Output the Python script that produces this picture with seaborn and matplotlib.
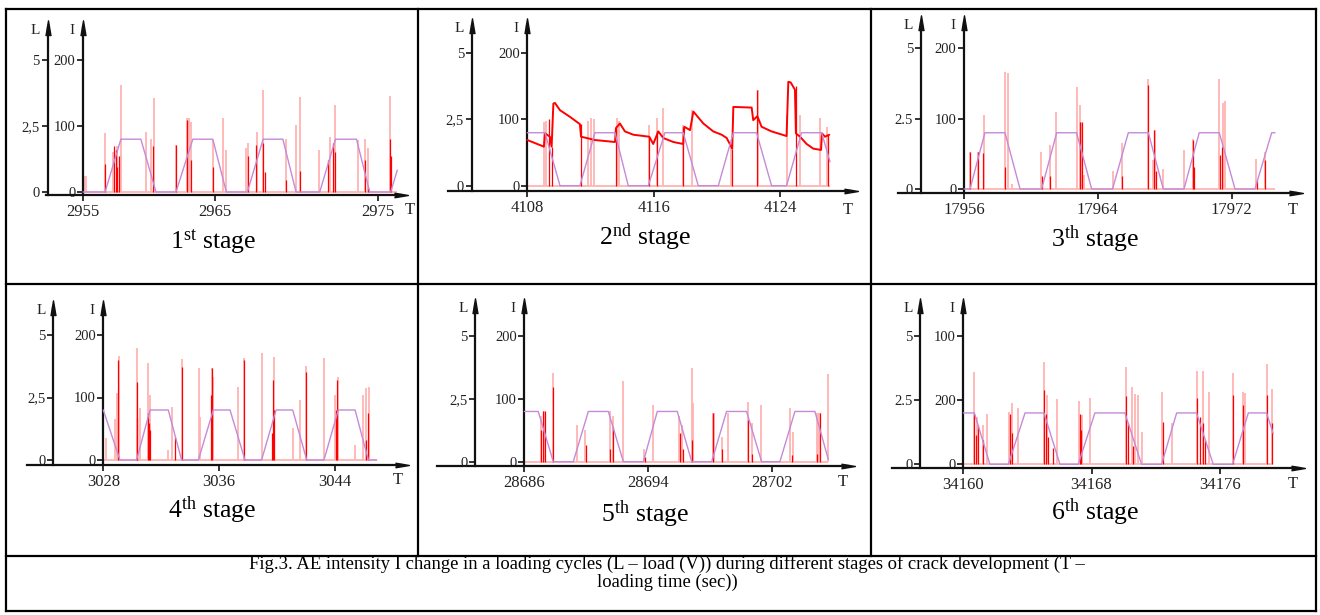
import numpy as np
import matplotlib
matplotlib.use("Agg")
import matplotlib.pyplot as plt
import seaborn as sns

sns.set_theme(style="white")
plt.rcParams['font.family'] = ['Liberation Serif', 'DejaVu Serif']
plt.rcParams['mathtext.fontset'] = 'custom'
plt.rcParams['mathtext.rm'] = 'Liberation Serif'
plt.rcParams['mathtext.it'] = 'Liberation Serif:italic'

W, H = 1320, 615

# ---------------- DATA ----------------
# times are seconds after the first tick value of each panel; I in intensity units, L in load units
# Stage 1
p1_t0 = 2955
p1_xticks = [2955, 2965, 2977.4]
p1_xticklabels = ["2955", "2965", "2975"]
p1_load_dt = [0, 1.68, 2.88, 4.40, 5.55, 7.07, 8.35, 9.87, 10.9, 12.5, 13.7, 15.2, 16.2, 18.0, 19.2, 20.8, 21.8, 23.4, 23.9]
p1_load_L = [0, 0, 2.0, 2.0, 0, 0, 2.0, 2.0, 0, 0, 2.0, 2.0, 0, 0, 2.0, 2.0, 0, 0, 0.83]
p1_light_dt = [0.08, 0.25, 1.68, 2.30, 2.55, 2.88, 4.78, 5.17, 5.42, 7.07, 7.89, 8.04, 8.22, 9.87, 10.64, 10.89,
               12.42, 12.54, 13.26, 13.69, 15.42, 16.23, 16.49, 17.96, 18.78, 19.16, 20.94, 21.45, 21.70, 23.36]
p1_light_I = [24, 24, 89, 60, 70, 162, 91, 81, 142, 71, 112, 112, 106, 79, 112, 64,
              67, 74, 91, 155, 81, 102, 144, 64, 84, 132, 79, 81, 66, 146]
p1_dark_dt = [1.68, 2.37, 2.49, 2.62, 2.75, 5.34, 7.07, 7.89, 8.22, 9.87, 12.54, 13.18, 13.69, 13.82,
              15.47, 16.49, 18.65, 19.03, 19.16, 21.45, 21.70, 23.36, 23.41]
p1_dark_I = [43, 69, 64, 38, 54, 69, 71, 109, 48, 38, 54, 71, 74, 31,
             18, 32, 48, 74, 61, 48, 8, 80, 54]

# Stage 2
p2_t0 = 4108
p2_xticks = [4108, 4116, 4124]
p2_xticklabels = ["4108", "4116", "4124"]
p2_load_dt = [0, 1.12, 2.07, 3.33, 4.28, 5.55, 6.39, 7.66, 8.71, 9.87, 10.82, 12.09, 13.04, 14.51, 15.46, 16.41, 17.36, 18.63, 19.16]
p2_load_L = [2.0, 2.0, 0, 0, 2.0, 2.0, 0, 0, 2.0, 2.0, 0, 0, 2.0, 2.0, 0, 0, 2.0, 2.0, 0.9]
p2_sig_dt = [0.00, 1.05, 1.12, 1.43, 1.54, 1.65, 1.75, 2.07, 2.70, 3.33, 3.40, 3.76, 4.28, 5.55, 5.61, 5.86, 6.18,
             6.71, 7.72, 7.97, 8.29, 8.61, 9.24, 9.87, 9.94, 10.30, 10.51, 11.14, 11.77, 12.30, 12.62, 12.97,
             13.04, 14.20, 14.30, 14.56, 14.83, 15.46, 16.41, 16.52, 16.67, 16.94, 17.00, 17.26, 17.68, 18.10,
             18.59, 18.65, 18.84, 19.11]
p2_sig_I = [69, 59, 79, 74, 59, 124, 125, 114, 104, 93, 74, 72, 69, 66, 87, 94, 82,
            77, 74, 63, 82, 72, 66, 63, 89, 84, 112, 94, 82, 77, 72, 56,
            119, 118, 99, 105, 89, 82, 75, 157, 156, 145, 79, 74, 63, 56,
            54, 79, 74, 77]
p2_light_dt = [1.05, 1.18, 3.84, 4.01, 4.22, 5.65, 5.82, 7.70, 8.23, 8.60, 9.85, 10.42, 12.90, 14.58, 16.41, 17.26, 18.52, 18.99]
p2_light_I = [96, 97, 97, 102, 100, 102, 97, 92, 102, 117, 92, 114, 60, 145, 107, 107, 102, 89]
p2_dark_dt = [1.40, 1.54, 3.40, 5.61, 7.72, 8.20, 9.87, 12.97, 14.56, 17.00, 19.05]
p2_dark_I = [100, 59, 93, 87, 74, 82, 89, 56, 145, 150, 77]

# Stage 3
p3_t0 = 17956
p3_xticks = [17956, 17964, 17972]
p3_xticklabels = ["17956", "17964", "17972"]
p3_load_dt = [0, 0.36, 1.25, 2.45, 3.35, 4.64, 5.54, 6.73, 7.63, 8.88, 9.82, 11.02, 11.91, 13.15, 14.06, 15.26, 16.20, 17.39, 18.39, 18.59]
p3_load_L = [0, 0, 2.0, 2.0, 0, 0, 2.0, 2.0, 0, 0, 2.0, 2.0, 0, 0, 2.0, 2.0, 0, 0, 2.0, 2.0]
p3_light_dt = [0.36, 0.86, 1.22, 2.45, 2.65, 2.85, 4.60, 5.14, 5.48, 6.73, 6.93, 6.99, 7.17, 8.88, 9.42,
               11.02, 11.27, 11.41, 11.91, 13.15, 13.67, 15.24, 15.50, 15.60, 17.43, 17.99]
p3_light_I = [53, 53, 105, 167, 165, 7, 53, 63, 110, 145, 119, 96, 20, 25, 65,
              157, 41, 84, 29, 55, 71, 157, 122, 125, 42, 53]
p3_dark_dt = [0.36, 0.86, 1.16, 2.45, 4.64, 5.14, 6.93, 7.03, 9.42, 11.02, 11.37, 11.47, 13.71, 13.75, 15.30, 15.40, 17.49, 17.99]
p3_dark_I = [53, 53, 51, 32, 18, 18, 96, 96, 18, 148, 84, 25, 70, 32, 48, 60, 13, 41]

# Stage 4
p4_t0 = 3028
p4_xticks = [3028, 3036, 3044]
p4_xticklabels = ["3028", "3036", "3044"]
p4_load_dt = [0, 1.15, 2.30, 3.23, 4.49, 5.41, 6.57, 7.60, 8.76, 9.79, 10.94, 11.94, 13.09, 14.06, 15.25, 16.24, 17.40, 18.32, 18.89]
p4_load_L = [2.0, 0, 0, 2.0, 2.0, 0, 0, 2.0, 2.0, 0, 0, 2.0, 2.0, 0, 0, 2.0, 2.0, 0, 0]
p4_light_dt = [0.18, 0.81, 0.92, 1.08, 2.30, 2.53, 3.11, 3.23, 4.49, 4.72, 5.41, 6.64, 6.68, 7.53, 7.60, 9.33, 9.75,
               10.94, 11.80, 13.09, 13.59, 13.99, 15.25, 16.01, 16.20, 17.40, 17.97, 18.13, 18.36]
p4_light_I = [35, 65, 107, 166, 179, 83, 155, 104, 16, 85, 161, 147, 69, 147, 133, 117, 163,
              171, 165, 51, 96, 151, 163, 104, 133, 24, 104, 115, 117]
p4_dark_dt = [1.04, 2.30, 2.35, 3.11, 3.16, 3.23, 4.95, 5.41, 7.42, 7.49, 9.75, 11.64, 11.75, 11.82, 13.99, 16.08, 16.18, 18.13, 18.32]
p4_dark_I = [160, 125, 67, 75, 59, 48, 37, 149, 104, 147, 160, 43, 128, 80, 141, 80, 128, 32, 75]

# Stage 5
p5_t0 = 28686
p5_xticks = [28686, 28694, 28702]
p5_xticklabels = ["28686", "28694", "28702"]
p5_load_dt = [0, 0.90, 1.87, 3.16, 4.13, 5.42, 6.39, 7.68, 8.58, 9.87, 10.80, 12.09, 13.05, 14.34, 15.31, 16.49, 17.46, 18.75, 19.61]
p5_load_L = [2.0, 2.0, 0, 0, 2.0, 2.0, 0, 0, 2.0, 2.0, 0, 0, 2.0, 2.0, 0, 0, 2.0, 2.0, 0.1]
p5_light_dt = [1.08, 1.27, 1.87, 3.38, 3.91, 5.53, 5.74, 6.34, 7.72, 8.32, 10.00, 10.15, 10.80, 10.90, 12.19, 12.26,
               12.73, 13.16, 14.45, 14.67, 15.25, 17.14, 17.31, 18.86, 18.97, 19.08, 19.61]
p5_light_I = [72, 80, 142, 58, 50, 80, 72, 129, 21, 91, 72, 58, 149, 93, 77, 77,
              40, 77, 95, 61, 90, 85, 48, 77, 77, 77, 139]
p5_dark_dt = [1.08, 1.23, 1.33, 1.87, 3.96, 5.53, 5.74, 7.78, 10.04, 10.26, 10.80, 12.19, 12.73, 14.45, 14.67, 17.25, 18.86, 19.08]
p5_dark_I = [50, 80, 80, 119, 27, 21, 56, 8, 45, 21, 34, 77, 21, 66, 13, 11, 13, 77]

# Stage 6
p6_t0 = 34160
p6_xticks = [34160, 34168, 34176]
p6_xticklabels = ["34160", "34168", "34176"]
p6_load_dt = [0, 0.69, 1.66, 2.81, 3.85, 5.03, 6.03, 7.17, 8.21, 10.08, 11.12, 12.37, 13.31, 14.55, 15.59, 16.80, 17.78, 18.92, 19.33]
p6_load_L = [2.0, 2.0, 0, 0, 2.0, 2.0, 0, 0, 2.0, 2.0, 0, 0, 2.0, 2.0, 0, 0, 2.0, 2.0, 1.2]
p6_light_dt = [0.69, 0.83, 1.25, 1.46, 2.85, 3.01, 3.43, 5.05, 5.20, 5.82, 7.23, 7.38, 7.90, 10.15, 10.50, 10.71,
               10.91, 11.12, 12.41, 12.99, 14.55, 14.97, 15.34, 16.84, 17.42, 17.57, 18.92, 19.27]
p6_light_I = [144, 74, 61, 79, 82, 95, 87, 160, 108, 101, 99, 77, 103, 151, 120, 110,
              108, 51, 112, 64, 146, 146, 112, 142, 112, 111, 156, 117]
p6_dark_dt = [0.69, 0.79, 0.94, 1.25, 2.91, 3.06, 5.05, 5.14, 5.30, 5.57, 7.28, 7.34, 10.15, 10.29, 10.60, 12.47,
              14.55, 14.76, 14.97, 15.07, 16.84, 17.46, 18.92, 19.23]
p6_dark_I = [79, 46, 61, 38, 79, 48, 116, 79, 43, 25, 79, 54, 106, 64, 28, 66,
             103, 74, 64, 38, 108, 92, 108, 64]

# shared axis tick texts
i_ticks = [0, 100, 200]
i_ticklabels = ["0", "100", "200"]
p6_i_ticklabels = ["0", "200", "100"]
l_ticks = [0, 2.5, 5]
l_ticklabels_comma = ["0", "2,5", "5"]
l_ticklabels_dot = ["0", "2.5", "5"]
stage_texts = ["1$^{\\mathrm{st}}$ stage", "2$^{\\mathrm{nd}}$ stage", "3$^{\\mathrm{th}}$ stage",
               "4$^{\\mathrm{th}}$ stage", "5$^{\\mathrm{th}}$ stage", "6$^{\\mathrm{th}}$ stage"]
caption_lines = ["Fig.3. AE intensity I change in a loading cycles (L \u2013 load (V)) during different stages of crack development (T \u2013",
                 "loading time (sec))"]

# ---------------- LAYOUT (pixels) ----------------
LAYOUTS = [
    dict(xi=83, sx=13.15, y0=192, sy=0.66, yb=195, yt=27.5, xl=46, xr=401, xL=47.5, stage=(213, 248), T=(410, 210)),
    dict(xi=527.3, sx=15.8, y0=185.7, sy=0.662, yb=190.7, yt=26, xl=448, xr=851, xL=471.7, stage=(645, 245), T=(848, 210)),
    dict(xi=964, sx=16.73, y0=189, sy=0.703, yb=193.3, yt=22.5, xl=898.3, xr=1296, xL=920.7, stage=(1095, 247), T=(1293, 210)),
    dict(xi=103.3, sx=14.47, y0=460, sy=0.625, yb=465, yt=307.5, xl=26.7, xr=402, xL=53.3, stage=(212, 518), T=(398, 480)),
    dict(xi=524.3, sx=15.5, y0=461.7, sy=0.628, yb=465.7, yt=306, xl=436.7, xr=848, xL=475, stage=(645, 522), T=(843, 482)),
    dict(xi=963.3, sx=16.03, y0=464.3, sy=0.642, yb=468.3, yt=306, xl=891.7, xr=1298, xL=920, stage=(1095, 520), T=(1293, 484)),
]

panels = [
    dict(t0=p1_t0, xt=p1_xticks, xtl=p1_xticklabels, itl=i_ticklabels, ltl=l_ticklabels_comma,
         load=(p1_load_dt, p1_load_L), light=(p1_light_dt, p1_light_I), dark=(p1_dark_dt, p1_dark_I), sig=None),
    dict(t0=p2_t0, xt=p2_xticks, xtl=p2_xticklabels, itl=i_ticklabels, ltl=l_ticklabels_comma,
         load=(p2_load_dt, p2_load_L), light=(p2_light_dt, p2_light_I), dark=(p2_dark_dt, p2_dark_I),
         sig=(p2_sig_dt, p2_sig_I)),
    dict(t0=p3_t0, xt=p3_xticks, xtl=p3_xticklabels, itl=i_ticklabels, ltl=l_ticklabels_dot,
         load=(p3_load_dt, p3_load_L), light=(p3_light_dt, p3_light_I), dark=(p3_dark_dt, p3_dark_I), sig=None),
    dict(t0=p4_t0, xt=p4_xticks, xtl=p4_xticklabels, itl=i_ticklabels, ltl=l_ticklabels_comma,
         load=(p4_load_dt, p4_load_L), light=(p4_light_dt, p4_light_I), dark=(p4_dark_dt, p4_dark_I), sig=None),
    dict(t0=p5_t0, xt=p5_xticks, xtl=p5_xticklabels, itl=i_ticklabels, ltl=l_ticklabels_comma,
         load=(p5_load_dt, p5_load_L), light=(p5_light_dt, p5_light_I), dark=(p5_dark_dt, p5_dark_I), sig=None),
    dict(t0=p6_t0, xt=p6_xticks, xtl=p6_xticklabels, itl=p6_i_ticklabels, ltl=l_ticklabels_dot,
         load=(p6_load_dt, p6_load_L), light=(p6_light_dt, p6_light_I), dark=(p6_dark_dt, p6_dark_I), sig=None),
]

LIGHT = '#ffb3b3'
DARK = '#ff0000'
LOAD = '#c58ad8'
AXC = '#111111'
TXT = '#222222'
AXLW = 1.6
UP = [(-1 / 3, -1), (0, 1), (1 / 3, -1)]
RIGHT = [(-1, -1 / 3), (1, 0), (-1, 1 / 3)]

fig = plt.figure(figsize=(13.2, 6.15), dpi=100)


def fx(x):
    return x / W


def fy(y):
    return 1 - y / H


# table frame
bg = fig.add_axes([0, 0, 1, 1], zorder=-5)
bg.set_xlim(0, W)
bg.set_ylim(H, 0)
bg.axis('off')
for yy in [9, 284, 556, 611]:
    bg.plot([6, 1316], [yy, yy], color='black', lw=1.6, solid_capstyle='projecting')
for xx in [6, 1316]:
    bg.plot([xx, xx], [9, 611], color='black', lw=1.6, solid_capstyle='projecting')
for xx in [418, 871]:
    bg.plot([xx, xx], [9, 556], color='black', lw=1.6, solid_capstyle='projecting')


def draw_panel(spec, L, stage_text):
    t0 = spec['t0']
    xi, sx, y0, sy = L['xi'], L['sx'], L['y0'], L['sy']
    xmin = t0 + (L['xl'] - xi) / sx
    xmax = t0 + (L['xr'] - xi) / sx
    ymin = (y0 - L['yb']) / sy
    ymax = (y0 - L['yt']) / sy
    tL = t0 + (L['xL'] - xi) / sx

    ax = fig.add_axes([fx(L['xl']), fy(L['yb']), (L['xr'] - L['xl']) / W, (L['yb'] - L['yt']) / H])
    ax.patch.set_visible(False)

    lt = t0 + np.asarray(spec['light'][0], float)
    lh = np.asarray(spec['light'][1], float)
    dt_ = t0 + np.asarray(spec['dark'][0], float)
    dh = np.asarray(spec['dark'][1], float)
    ldt = t0 + np.asarray(spec['load'][0], float)
    lv = np.asarray(spec['load'][1], float)

    ax.hlines(0, t0, ldt.max(), color=LIGHT, lw=1.3, zorder=1)
    ax.vlines(lt, 0, lh, color=LIGHT, lw=1.3, zorder=1)
    ax.vlines(dt_, 0, dh, color=DARK, lw=0.9, zorder=2)
    if spec['sig'] is not None:
        st = t0 + np.asarray(spec['sig'][0], float)
        sv = np.asarray(spec['sig'][1], float)
        sns.lineplot(x=st, y=sv, ax=ax, color=DARK, lw=1.4, sort=False, estimator=None, zorder=3)

    ax.set_xlim(xmin, xmax)
    ax.set_ylim(ymin, ymax)
    ax.set_xlabel('')
    ax.set_ylabel('')
    for s in ['top', 'right']:
        ax.spines[s].set_visible(False)
    for s in ['left', 'bottom']:
        ax.spines[s].set_visible(True)
        ax.spines[s].set_linewidth(AXLW)
        ax.spines[s].set_color(AXC)
    ax.spines['left'].set_position(('data', t0))
    ax.set_yticks(i_ticks)
    ax.set_yticklabels(spec['itl'])
    ax.set_xticks(spec['xt'])
    ax.set_xticklabels(spec['xtl'])
    ax.tick_params(axis='y', left=True, direction='out', length=4, width=1.2, pad=1.5,
                   labelsize=10.5, colors=AXC, labelcolor=TXT)
    ax.tick_params(axis='x', bottom=True, direction='out', length=4, width=1.2, pad=2.5,
                   labelsize=12, colors=AXC, labelcolor=TXT)

    ax2 = ax.twinx()
    sns.lineplot(x=ldt, y=lv, ax=ax2, color=LOAD, lw=1.0, sort=False, estimator=None, zorder=4)
    ax2.set_xlim(xmin, xmax)
    ax2.set_ylim(ymin / 40, ymax / 40)
    ax2.set_xlabel('')
    ax2.set_ylabel('')
    for s in ['top', 'right', 'bottom']:
        ax2.spines[s].set_visible(False)
    ax2.spines['left'].set_visible(True)
    ax2.spines['left'].set_linewidth(AXLW)
    ax2.spines['left'].set_color(AXC)
    ax2.spines['left'].set_position(('data', tL))
    ax2.yaxis.set_ticks_position('left')
    ax2.set_yticks(l_ticks)
    ax2.set_yticklabels(spec['ltl'])
    ax2.tick_params(axis='y', left=True, right=False, labelleft=True, labelright=False, direction='out',
                    length=4, width=1.2, pad=1.5, labelsize=10.5, colors=AXC, labelcolor=TXT)

    # arrow heads
    ax.plot([t0, tL], [1, 1], transform=ax.get_xaxis_transform(), ls='none', marker=UP, ms=11,
            color=AXC, clip_on=False, zorder=6)
    ax.plot([1], [0], transform=ax.transAxes, ls='none', marker=RIGHT, ms=10, color=AXC, clip_on=False, zorder=6)

    # axis letters
    ytop = L['yt'] + 3
    fig.text(fx(L['xL'] - 12), fy(ytop), "L", ha='center', va='center', fontsize=11, color=TXT)
    fig.text(fx(xi - 11), fy(ytop), "I", ha='center', va='center', fontsize=11, color=TXT)
    fig.text(fx(L['T'][0]), fy(L['T'][1]), "T", ha='center', va='center', fontsize=12, color=TXT)
    fig.text(fx(L['stage'][0]), fy(L['stage'][1]), stage_text, ha='center', va='baseline',
             fontsize=18.5, color='black')


for spec, L, stxt in zip(panels, LAYOUTS, stage_texts):
    draw_panel(spec, L, stxt)

fig.text(fx(667), fy(569), caption_lines[0], ha='center', va='baseline', fontsize=13.4, color='black')
fig.text(fx(667), fy(587), caption_lines[1], ha='center', va='baseline', fontsize=13.4, color='black')

fig.savefig("out.png", dpi=100)
